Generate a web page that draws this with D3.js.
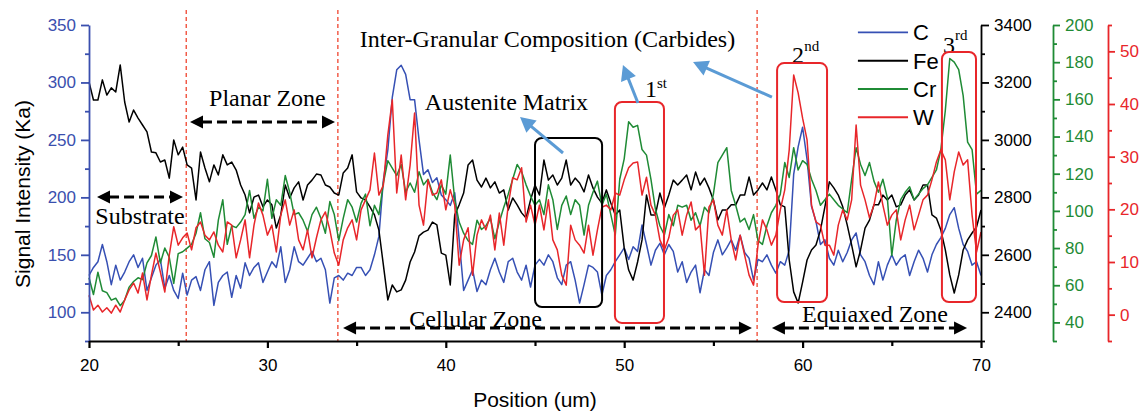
<!DOCTYPE html>
<html><head><meta charset="utf-8">
<script src="https://cdn.jsdelivr.net/npm/d3@7"></script>
<style>body{margin:0;background:#fff}svg{display:block}</style>
</head><body><svg id="chart" width="1146" height="412"></svg>
<script>
// ---- data (position step 0.25 um from 20 um) ----
const startPos = 20, stepPos = 0.25;
const carbon = [
132,139,144,159, 144,124,141,128, 135,144,150,139, 147,119,130,141, 146,121,132,119,
112,134,115,128, 131,119,137,144, 106,126,132,135, 113,132,121,143, 132,139,143,126,
135,144,139,157, 126,137,157,144, 141,147,153,144, 147,137,108,130, 132,128,134,132,
139,139,132,137, 150,166,215,241, 287,311,315,307, 285,285,250,220, 224,213,217,202,
198,193,204,163, 119,128,137,118, 128,124,137,147, 135,126,144,147, 135,128,141,122,
141,146,141,150, 144,130,124,141, 144,128,108,124, 141,139,135,115, 132,137,144,150,
156,146,157,153, 176,159,141,154, 160,150,159,153, 135,144,126,135, 141,117,137,132,
152,163,150,156, 163,154,167,152, 147,128,146,144, 150,141,134,144, 141,154,220,244,
261,233,192,179, 159,163,147,141, 154,144,152,163, 169,150,144,132, 124,144,128,141,
150,141,147,150, 132,144,154,147, 135,150,159,165, 173,185,191,173, 159,153,141,144,
132];
const iron = [
3202,3139,3139,3209, 3156,3181,3167,3261, 3132,3062,3104,3076, 3052,3028,2958,2955, 2923,2930,2867,3000,
2948,2975,2913,2902, 2791,2958,2902,2854, 2913,2878,2948,2913, 2923,2895,2843,2808, 2746,2801,2808,2767,
2791,2774,2693,2739, 2843,2798,2833,2854, 2791,2843,2860,2881, 2878,2843,2836,2815, 2808,2885,2902,2948,
2819,2798,2791,2767, 2739,2686,2565,2443, 2495,2471,2478,2512, 2575,2610,2666,2679, 2686,2714,2704,2606,
2599,2495,2739,2774, 2815,2913,2930,2860, 2836,2867,2833,2854, 2815,2826,2756,2798, 2774,2746,2728,2791,
2843,2808,2930,2860, 2878,2843,2867,2930, 2843,2867,2850,2819, 2878,2833,2801,2780, 2826,2780,2739,2756,
2624,2547,2512,2575, 2652,2808,2739,2739, 2815,2763,2808,2860, 2843,2860,2878,2826, 2888,2843,2867,2833,
2791,2721,2756,2756, 2774,2774,2808,2808, 2871,2808,2826,2850, 2826,2871,2826,2774, 2767,2582,2471,2432,
2505,2582,2617,2634, 2686,2767,2854,2833, 2808,2767,2704,2634, 2558,2617,2693,2721, 2774,2774,2808,2791,
2808,2767,2774,2808, 2826,2791,2808,2843, 2843,2739,2728,2686, 2617,2530,2467,2530, 2617,2652,2676,2697,
2756];
const chromium = [
64,55,67,57, 56,52,53,49, 52,59,62,64, 63,72,76,86, 72,80,75,61,
77,78,80,82, 88,99,85,83, 75,95,106,82, 92,91,94,98, 111,96,102,100,
117,96,106,103, 119,110,98,99, 95,89,98,102, 96,88,105,98, 84,96,106,102,
94,104,109,92, 103,98,115,127, 123,119,125,110, 115,110,121,114, 117,110,106,114,
109,130,106,94, 88,84,82,95, 90,92,96,85, 94,102,109,117, 125,121,114,108,
103,106,98,114, 106,90,103,108, 98,106,103,87, 103,110,116,103, 109,98,87,117,
128,148,145,146, 133,130,117,101, 92,87,98,92, 103,102,103,95, 99,92,102,99,
109,126,130,134, 111,103,94,96, 90,98,84,82, 92,99,103,109, 126,118,134,122,
127,125,117,111, 103,106,109,106, 103,101,99,117, 134,125,119,126, 116,110,117,107,
76,95,106,110, 113,106,109,112, 114,118,122,133, 154,182,180,176, 162,137,133,109,
111];
const tungsten = [
3.7,0.9,1.8,0.5, 1.3,0.3,1.8,0.5, 2.8,4.7,6.0,4.1, 7.9,2.8,7.5,11.7, 8.1,4.3,11.3,16.7,
13.2,14.6,15.5,12.3, 16.5,17.6,15.1,14.2, 15.7,13.2,11.9,17.6, 17.0,10.8,14.2,18.0, 10.8,17.0,21.2,18.9,
15.1,17.0,11.9,18.9, 21.8,17.0,19.9,14.2, 12.3,16.1,10.8,14.6, 18.0,19.5,16.1,11.7, 9.4,14.2,16.5,18.0,
14.2,19.9,21.8,23.7, 30.7,22.7,24.6,34.1, 40.8,23.1,30.3,21.8, 28.4,38.3,20.8,17.0, 25.6,22.7,23.1,25.6,
19.9,23.7,20.8,9.4, 14.2,16.5,7.5,15.1, 18.0,16.1,18.9,12.3, 19.3,13.2,20.8,26.0, 25.6,27.9,17.6,20.8,
17.0,20.8,16.1,21.8, 14.2,12.3,7.5,5.6, 17.0,14.2,13.2,11.7, 17.0,11.3,16.1,20.4, 20.8,19.9,23.1,22.7,
25.6,27.9,28.8,29.0, 22.7,26.1,20.8,18.9, 14.2,12.3,14.6,18.9, 19.9,15.1,18.9,21.4, 16.1,17.0,7.5,20.4,
21.8,17.0,15.1,19.9, 14.2,10.4,15.1,11.3, 7.5,5.6,13.2,18.0, 16.1,13.2,15.1,19.9, 23.7,31.3,45.5,42.1,
37.3,33.2,20.8,17.6, 17.0,13.2,13.2,11.3, 17.0,19.9,18.0,21.8, 36.0,24.6,21.8,18.4, 20.8,25.2,20.8,17.0,
18.9,19.9,14.2,18.0, 20.8,16.1,18.9,21.8, 22.7,25.6,29.0,31.3, 29.4,21.8,27.1,30.9, 28.4,29.4,18.9,11.9,
15.7];
const positions = carbon.map((_, i) => startPos + i * stepPos);

const seriesNames = ["C", "Fe", "Cr", "W"];

// tick labels
const xTicks = [20, 30, 40, 50, 60, 70];
const xMinorTicks = [25, 35, 45, 55, 65];
const cTicks = [100, 150, 200, 250, 300, 350];
const cMinorTicks = [75, 125, 175, 225, 275, 325];
const feTicks = [2400, 2600, 2800, 3000, 3200, 3400];
const feMinorTicks = [2300, 2500, 2700, 2900, 3100, 3300];
const crTicks = [40, 60, 80, 100, 120, 140, 160, 180, 200];
const crMinorTicks = [30, 50, 70, 90, 110, 130, 150, 170, 190];
const wTicks = [0, 10, 20, 30, 40, 50];
const wMinorTicks = [-5, 5, 15, 25, 35, 45, 55];

// zone boundaries (um)
const zoneBounds = [25.45, 33.95, 57.45];

// ---- layout ----
const W = 1146, H = 412;
const m = {left: 89, top: 25, right: 165, bottom: 71};
const pw = W - m.left - m.right;   // 892
const ph = H - m.top - m.bottom;   // 316

const colC = "#3650b4", colFe = "#000000", colCr = "#1f8b35", colW = "#e8262a";
const axC = "#3a4fae";
const sans = "'Liberation Sans', Arial, sans-serif";
const serif = "'Liberation Serif', 'Times New Roman', serif";

const svg = d3.select("#chart");
svg.append("rect").attr("width", W).attr("height", H).attr("fill", "#ffffff");

const x = d3.scaleLinear().domain([20, 70]).range([m.left, m.left + pw]);
const yC = d3.scaleLinear().domain([75, 350]).range([m.top + ph, m.top]);
const yFe = d3.scaleLinear().domain([2300, 3400]).range([m.top + ph, m.top]);
const yCr = d3.scaleLinear().domain([30, 200]).range([m.top + ph, m.top]);
const yW = d3.scaleLinear().domain([-5, 55]).range([m.top + ph, m.top]);

// zone boundary dashed lines
svg.append("g").selectAll("line").data(zoneBounds).join("line")
  .attr("x1", d => x(d)).attr("x2", d => x(d))
  .attr("y1", yC(363)).attr("y2", yC(75))
  .attr("stroke", "#f0452f").attr("stroke-width", 1.3).attr("stroke-dasharray", "4,3");

// ---- lines ----
const series = [
  {name: "C", values: carbon, y: yC, color: colC},
  {name: "Fe", values: iron, y: yFe, color: colFe},
  {name: "Cr", values: chromium, y: yCr, color: colCr},
  {name: "W", values: tungsten, y: yW, color: colW}
];
series.forEach(s => {
  const line = d3.line().x((d, i) => x(positions[i])).y(d => s.y(d));
  svg.append("path").datum(s.values)
    .attr("d", line).attr("fill", "none")
    .attr("stroke", s.color).attr("stroke-width", 1.5)
    .attr("stroke-linejoin", "round");
});

// ---- axes ----
function styleAxis(g, color, sw) {
  g.selectAll("path").attr("stroke", color).attr("stroke-width", sw);
  g.selectAll("line").attr("stroke", color).attr("stroke-width", sw);
  g.selectAll("text").attr("fill", color).attr("font-family", sans).attr("font-size", 17);
}
function addAxis(axisFn, scale, major, minor, tx, ty, color, sw, majorLen, minorLen) {
  const gm = svg.append("g").attr("transform", `translate(${tx},${ty})`)
    .call(axisFn(scale).tickValues(minor).tickSize(minorLen).tickFormat(""));
  gm.select(".domain").remove();
  styleAxis(gm, color, sw);
  const g = svg.append("g").attr("transform", `translate(${tx},${ty})`)
    .call(axisFn(scale).tickValues(major).tickSize(majorLen).tickSizeOuter(0)
      .tickPadding(5).tickFormat(d3.format("d")));
  styleAxis(g, color, sw);
  return g;
}
addAxis(d3.axisLeft, yC, cTicks, cMinorTicks, m.left, 0, axC, 1.8, 8, 4);
addAxis(d3.axisRight, yFe, feTicks, feMinorTicks, m.left + pw, 0, "#000", 1.8, 8, 4);
addAxis(d3.axisRight, yCr, crTicks, crMinorTicks, 1053, 0, colCr, 1.8, 7, 4);
addAxis(d3.axisRight, yW, wTicks, wMinorTicks, 1108, 0, colW, 1.8, 7, 4);
const gx = addAxis(d3.axisBottom, x, xTicks, xMinorTicks, 0, m.top + ph, "#000", 2.2, 7, 5);
gx.selectAll("text").attr("dy", "1.05em");

// axis titles
svg.append("text").attr("transform", `translate(24,${194}) rotate(-90)`)
  .attr("text-anchor", "middle").attr("dominant-baseline", "middle")
  .attr("font-family", sans).attr("font-size", 21).attr("fill", "#000")
  .text("Signal Intensity (Ka)");
svg.append("text").attr("x", x(45)).attr("y", 407)
  .attr("text-anchor", "middle").attr("font-family", sans).attr("font-size", 21)
  .attr("fill", "#000").text("Position (um)");

// ---- annotations (data coordinates: um, C-axis units) ----
const zoneArrows = [
  {from: 20.45, to: 25.27, level: 200.3},
  {from: 25.66, to: 33.79, level: 265.6},
  {from: 34.24, to: 57.16, level: 86.3},
  {from: 58.28, to: 69.22, level: 86.3}
];
const ann = svg.append("g");
zoneArrows.forEach(a => {
  const x1 = x(a.from), x2 = x(a.to), yy = yC(a.level), L = 13, hw = 6.5;
  ann.append("line").attr("x1", x1 + L - 1).attr("x2", x2 - L + 1).attr("y1", yy).attr("y2", yy)
    .attr("stroke", "#000").attr("stroke-width", 3).attr("stroke-dasharray", "10,5");
  ann.append("path").attr("d", `M${x1},${yy}L${x1 + L},${yy - hw}L${x1 + L},${yy + hw}Z`).attr("fill", "#000");
  ann.append("path").attr("d", `M${x2},${yy}L${x2 - L},${yy - hw}L${x2 - L},${yy + hw}Z`).attr("fill", "#000");
});

const labels = [
  {t: "Substrate", px: 22.86, v: 176.8},
  {t: "Planar Zone", px: 30.0, v: 279.5},
  {t: "Inter-Granular Composition (Carbides)", px: 45.70, v: 330.9},
  {t: "Austenite Matrix", px: 43.40, v: 276.0},
  {t: "Cellular Zone", px: 41.67, v: 87.2},
  {t: "Equiaxed Zone", px: 64.06, v: 91.5}
];
labels.forEach(l => {
  ann.append("text").attr("x", x(l.px)).attr("y", yC(l.v)).attr("text-anchor", "middle")
    .attr("font-family", serif).attr("font-size", 24).attr("fill", "#000").text(l.t);
});

const ordinals = [
  {n: "1", s: "st", px: 51.17, v: 287.3, spx: 51.84, sv: 295.2},
  {n: "2", s: "nd", px: 59.41, v: 316.9, spx: 60.09, sv: 327.4},
  {n: "3", s: "rd", px: 67.87, v: 325.6, spx: 68.54, sv: 337.0}
];
ordinals.forEach(o => {
  ann.append("text").attr("x", x(o.px)).attr("y", yC(o.v)).attr("font-family", serif)
    .attr("font-size", 24).attr("fill", "#000").text(o.n);
  ann.append("text").attr("x", x(o.spx)).attr("y", yC(o.sv)).attr("font-family", serif)
    .attr("font-size", 15).attr("fill", "#000").text(o.s);
});

// boxes
const boxes = [
  {x0: 45.0, x1: 48.76, v0: 251.7, v1: 104.6, c: "#000"},
  {x0: 49.48, x1: 52.23, v0: 283.0, v1: 90.7, c: colW},
  {x0: 58.57, x1: 61.37, v0: 316.9, v1: 108.9, c: colW},
  {x0: 67.81, x1: 69.72, v0: 326.5, v1: 108.9, c: colW}
];
boxes.forEach(b => {
  ann.append("rect").attr("x", x(b.x0)).attr("y", yC(b.v0))
    .attr("width", x(b.x1) - x(b.x0)).attr("height", yC(b.v1) - yC(b.v0))
    .attr("rx", 7).attr("fill", "none").attr("stroke", b.c).attr("stroke-width", 2);
});

// blue pointer arrows
const pointers = [
  {fx: 46.57, fv: 238.6, tx: 44.16, tv: 269.9},
  {fx: 50.77, fv: 282.1, tx: 49.93, tv: 315.2},
  {fx: 58.28, fv: 287.3, tx: 53.86, tv: 317.8}
];
pointers.forEach(p => {
  const x1 = x(p.fx), y1 = yC(p.fv), x2 = x(p.tx), y2 = yC(p.tv);
  const dx = x2 - x1, dy = y2 - y1, len = Math.hypot(dx, dy);
  const ux = dx / len, uy = dy / len, nx = -uy, ny = ux, L = 15, hw = 8;
  const bx = x2 - ux * L, by = y2 - uy * L;
  ann.append("line").attr("x1", x1).attr("y1", y1).attr("x2", bx + ux * 2).attr("y2", by + uy * 2)
    .attr("stroke", "#5b9bd5").attr("stroke-width", 3);
  ann.append("path").attr("d", `M${x2},${y2}L${bx + nx * hw},${by + ny * hw}L${bx - nx * hw},${by - ny * hw}Z`)
    .attr("fill", "#5b9bd5");
});

// legend
const legendRows = [
  {name: seriesNames[0], color: colC, v: 343.6},
  {name: seriesNames[1], color: colFe, v: 318.9},
  {name: seriesNames[2], color: colCr, v: 294.3},
  {name: seriesNames[3], color: colW, v: 269.7}
];
legendRows.forEach(r => {
  ann.append("line").attr("x1", x(63.10)).attr("x2", x(65.91)).attr("y1", yC(r.v)).attr("y2", yC(r.v))
    .attr("stroke", r.color).attr("stroke-width", 1.8);
  ann.append("text").attr("x", x(66.19)).attr("y", yC(r.v) + 8).attr("font-family", sans)
    .attr("font-size", 22).attr("fill", "#000").text(r.name);
});
</script>
</body></html>
